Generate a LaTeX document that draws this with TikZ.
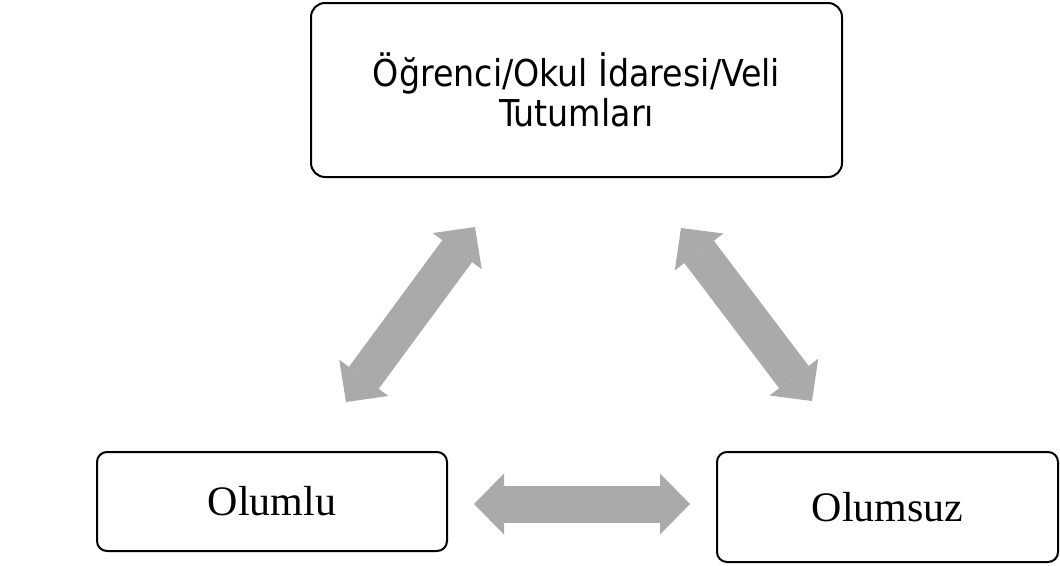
\documentclass[tikz,border=0pt]{standalone}
\usepackage{fontspec}
\setmainfont{Liberation Serif}
\newfontfamily\tahomalike{DejaVu Sans Condensed}
\usetikzlibrary{arrows.meta}
\definecolor{arrowgray}{HTML}{AAAAAA}
\begin{document}
\begin{tikzpicture}[x=1pt, y=-1pt]
        \tikzstyle{topbox}=[draw, line width=2pt, rounded corners=14pt, minimum width=531pt, minimum height=174pt, align=center, font=\tahomalike\fontsize{37}{40}\selectfont]
        \tikzstyle{sidebox}=[draw, line width=2pt, rounded corners=10pt, font=\fontsize{42}{48}\selectfont]
        \tikzstyle{twoway}=[arrowgray, line width=37pt, {Triangle[width=61pt, length=30pt, line width=0pt]}-{Triangle[width=61pt, length=30pt, line width=0pt]}]
        \useasboundingbox (0, 0) rectangle (1060, 565);

        \path (576.5, 90) node[topbox] (tutum) {Öğrenci/Okul İdaresi/Veli\\Tutumları};
        \path (272, 501.5) node[sidebox, minimum width=350pt, minimum height=99pt] (olumlu) {Olumlu};
        \path (887.5, 507) node[sidebox, minimum width=341pt, minimum height=110pt] (olumsuz) {Olumsuz};

        % arrow ends
        \coordinate (l1) at (475, 227);
        \coordinate (l2) at (346, 402);
        \coordinate (r1) at (681, 228);
        \coordinate (r2) at (812, 401);
        \coordinate (b1) at (474, 504);
        \coordinate (b2) at (690, 504);

        \draw [twoway] (l1) -- (l2);
        \draw [twoway] (r1) -- (r2);
        \draw [twoway] (b1) -- (b2);
      \end{tikzpicture}
\end{document}
